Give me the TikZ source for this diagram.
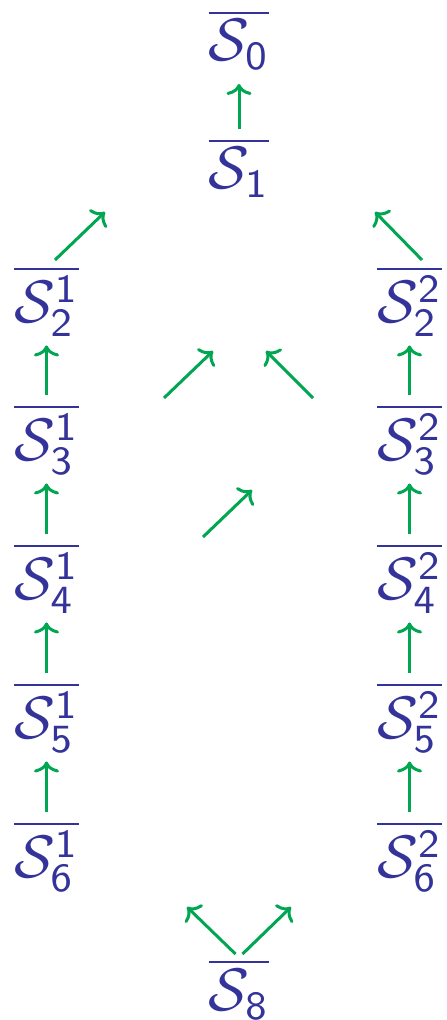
\documentclass[tikz,border=0pt]{standalone}
\usetikzlibrary{arrows.meta}
\definecolor{structblue}{RGB}{51,51,153}
\definecolor{flgreen}{RGB}{0,166,81}
\newcommand{\Sset}[1]{$\overline{\mathcal{S}_{\mathsf{#1}}}$}
\newcommand{\Ssett}[2]{$\overline{\mathcal{S}_{\mathsf{#1}}^{\mathsf{#2}}}$}
\tikzset{
  ens/.style={text=structblue, font=\fontsize{12}{14}\selectfont, inner sep=0pt, outer sep=1.8pt, anchor=north},
  fl/.style={flgreen, line width=0.6pt, -{To[length=2.2pt,width=5pt]}}
}
\begin{document}
\begin{tikzpicture}[x=0.2pt,y=-0.2pt]
\useasboundingbox (0,0) rectangle (446,1020);
% Ensembles
\node[ens] (S0) at (239,1) {\Sset{0}};
\node[ens] (S1) at (239,129) {\Sset{1}};
\foreach \k/\y in {2/257,3/395,4/534,5/673,6/812} {
  \node[ens] (S\k1) at (46.5,\y) {\Ssett{\k}{1}};
  \node[ens] (S\k2) at (409.5,\y) {\Ssett{\k}{2}};
}
\node[ens] (S8) at (239,950) {\Sset{8}};

% Extremites libres
\coordinate (h1) at (105,212);
\coordinate (h2) at (375,212);
\coordinate (m1a) at (164,398);
\coordinate (m1b) at (213,351);
\coordinate (m2a) at (313,398);
\coordinate (m2b) at (266,351);
\coordinate (m3a) at (203,537);
\coordinate (m3b) at (252,490);
\coordinate (b1) at (187,907);
\coordinate (b2) at (291,907);

% Fleches verticales
\draw[fl, shorten >=1pt] (S1) -- (S0);
\foreach \a/\b in {3/2,4/3,5/4,6/5} {
  \draw[fl] (S\a1) -- (S\b1);
  \draw[fl] (S\a2) -- (S\b2);
}

% Fleches obliques
\draw[fl] ([xshift=1.7pt,yshift=-0.6pt]S21.north) -- (h1);
\draw[fl] ([xshift=2.5pt,yshift=-0.6pt]S22.north) -- (h2);
\draw[fl] (m1a) -- (m1b);
\draw[fl] (m2a) -- (m2b);
\draw[fl] (m3a) -- (m3b);
\draw[fl] ([xshift=-0.7pt,yshift=-0.8pt]S8.north) -- (b1);
\draw[fl] ([xshift=0.7pt,yshift=-0.8pt]S8.north) -- (b2);
\end{tikzpicture}
\end{document}
